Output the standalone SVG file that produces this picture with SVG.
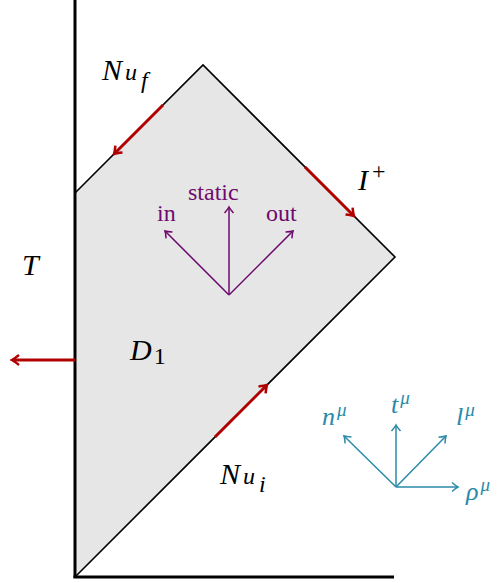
<svg xmlns="http://www.w3.org/2000/svg" width="499" height="583" viewBox="0 0 499 583">
<style>
.ax{stroke:#000;stroke-width:3;fill:none}
.edge{stroke:#000;stroke-width:1.6;fill:none}
.red{stroke:#b00000;stroke-width:3;fill:none}
.pur{stroke:#6e0a6e;stroke-width:1.5;fill:none}
.teal{stroke:#2a8aa8;stroke-width:1.5;fill:none}
.m{font-family:"Liberation Serif","DejaVu Serif",serif;font-style:italic;font-size:30px;fill:#000}
.sub{font-size:24px}
.pt{font-family:"Liberation Serif","DejaVu Serif",serif;font-size:24px;fill:#6e0a6e}
.tt{font-family:"Liberation Serif","DejaVu Serif",serif;font-style:italic;font-size:26px;fill:#2a8aa8}
.sup{font-size:19px}
</style>
<defs>
<marker id="ar" viewBox="-8 -6 10 12" refX="0" refY="0" markerWidth="10" markerHeight="12" markerUnits="userSpaceOnUse" orient="auto">
<path d="M-7,-5 Q-2,-1 0,0 Q-2,1 -7,5" stroke="#b00000" stroke-width="2.5" fill="none"/>
</marker>
<marker id="ap" viewBox="-8 -6 10 12" refX="0" refY="0" markerWidth="10" markerHeight="12" markerUnits="userSpaceOnUse" orient="auto">
<path d="M-6,-4.5 Q-2,-1 0,0 Q-2,1 -6,4.5" stroke="#6e0a6e" stroke-width="1.5" fill="none"/>
</marker>
<marker id="at" viewBox="-8 -6 10 12" refX="0" refY="0" markerWidth="10" markerHeight="12" markerUnits="userSpaceOnUse" orient="auto">
<path d="M-6,-4.5 Q-2,-1 0,0 Q-2,1 -6,4.5" stroke="#2a8aa8" stroke-width="1.5" fill="none"/>
</marker>
</defs>
<g id="region">
<polygon points="75,577 395,257 203,65 75,193" fill="#e6e6e6"/>
<polyline class="edge" points="75,577 395,257 203,65 75,193"/>
</g>
<g id="axes">
<line class="ax" x1="75" y1="0" x2="75" y2="578"/>
<line class="ax" x1="73.5" y1="577" x2="394" y2="577"/>
</g>
<g id="connectors">
<line class="red" x1="163" y1="105" x2="114" y2="154" marker-end="url(#ar)"/>
<line class="red" x1="305" y1="167" x2="354" y2="216" marker-end="url(#ar)"/>
<line class="red" x1="215" y1="437" x2="267" y2="385" marker-end="url(#ar)"/>
<line class="red" x1="75" y1="360" x2="12" y2="360" marker-end="url(#ar)"/>
<line class="pur" x1="229" y1="295" x2="229" y2="207" marker-end="url(#ap)"/>
<line class="pur" x1="229" y1="295" x2="165" y2="231" marker-end="url(#ap)"/>
<line class="pur" x1="229" y1="295" x2="293" y2="231" marker-end="url(#ap)"/>
<line class="teal" x1="396" y1="487" x2="396" y2="425" marker-end="url(#at)"/>
<line class="teal" x1="396" y1="487" x2="344" y2="436" marker-end="url(#at)"/>
<line class="teal" x1="396" y1="487" x2="446" y2="436" marker-end="url(#at)"/>
<line class="teal" x1="396" y1="487" x2="458" y2="487" marker-end="url(#at)"/>
</g>
<g id="labels">
<text class="m" x="102" y="80">N<tspan class="sub" dx="3" dy="0">u</tspan><tspan class="sub" dx="4" dy="8">f</tspan></text>
<text class="m" x="358" y="190">I<tspan class="sub" dx="4" dy="-11" font-style="normal">+</tspan></text>
<text class="m" x="22" y="275">T</text>
<text class="m" x="130" y="360">D<tspan class="sub" dx="2" dy="4" font-style="normal">1</tspan></text>
<text class="m" x="220" y="484">N<tspan class="sub" dx="3" dy="0">u</tspan><tspan class="sub" dx="4" dy="8">i</tspan></text>
<text class="pt" x="188" y="200">static</text>
<text class="pt" x="157" y="221">in</text>
<text class="pt" x="266" y="221">out</text>
<text class="tt" x="322" y="425">n<tspan class="sup" dx="2" dy="-9">μ</tspan></text>
<text class="tt" x="391" y="413">t<tspan class="sup" dx="2" dy="-9">μ</tspan></text>
<text class="tt" x="456" y="425">l<tspan class="sup" dx="2" dy="-9">μ</tspan></text>
<text class="tt" x="466" y="500">ρ<tspan class="sup" dx="2" dy="-9">μ</tspan></text>
</g>
</svg>
